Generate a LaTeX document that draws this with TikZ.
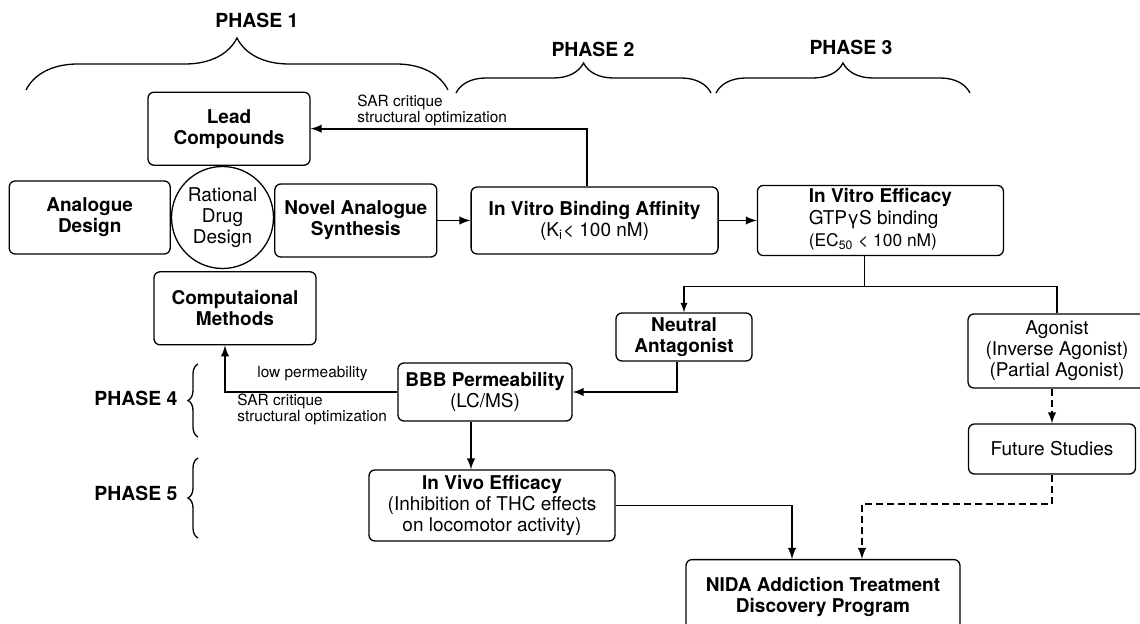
\documentclass[tikz,border=0pt]{standalone}
\usepackage{fontspec}
\setmainfont{TeX Gyre Heros}
\usepackage{tikz}
\usetikzlibrary{arrows,shapes,positioning,calc}
\usetikzlibrary{decorations.pathreplacing}

\begin{document}
\begin{tikzpicture}[x=0.5pt, y=-0.5pt, auto]
        \tikzstyle{block} = [rectangle, draw, rounded corners=3pt,
                             line width=0.65pt, align=center, inner sep=1pt,
                             font=\fontsize{9.5}{10.5}\selectfont]
        \tikzstyle{bblock} = [block, font=\fontsize{9.5}{10.5}\selectfont\bfseries]
        \tikzstyle{arrow} = [draw, -latex, line width=0.9pt]
        \tikzstyle{thinarrow} = [draw, -latex, line width=0.65pt]
        \tikzstyle{dasharrow} = [arrow, dash pattern=on 3.5pt off 2pt]
        \tikzstyle{link} = [draw, line width=0.65pt]
        \tikzstyle{phase} = [font=\fontsize{9.7}{11}\selectfont\bfseries,
                             inner sep=0pt, anchor=base]
        \tikzstyle{note} = [font=\fontsize{7.7}{8}\selectfont, align=left,
                            inner sep=0pt]
        \tikzstyle{curly} = [decorate, line width=0.65pt]
        \useasboundingbox (0,0) rectangle (1140,624);

        % phase 1: rational drug design
        \node[circle, draw, line width=0.65pt, minimum size=51pt, inner sep=0pt,
              align=center, font=\fontsize{9.5}{10.5}\selectfont]
              (rdd) at (222.5,217.5) {Rational\\Drug\\Design};
        \node[bblock, minimum width=81pt, minimum height=36.5pt,
              above=0pt of rdd, xshift=3.25pt] (lead) {Lead\\Compounds};
        \node[bblock, minimum width=80.5pt, minimum height=36.5pt,
              left=0pt of rdd] (analog) {Analogue\\Design};
        \node[bblock, minimum width=81pt, minimum height=36.5pt,
              right=0pt of rdd, yshift=-1.5pt] (novel) {Novel Analogue\\Synthesis};
        \node[bblock, minimum width=81pt, minimum height=36.5pt,
              below=1pt of rdd, xshift=6.25pt] (comp) {Computaional\\Methods};

        % phase 2 and 3
        \node[block, minimum width=123.5pt, minimum height=33.5pt,
              right=16.5pt of novel] (binding)
              {\textbf{In Vitro Binding Affinity}\\(K\textsubscript{i}< 100 nM)};
        \path[arrow] (novel.east) -- (novel.east -| binding.west);
        \node[block, minimum width=123pt, minimum height=33.5pt,
              right=19pt of binding] (efficacy)
              {\renewcommand{\arraystretch}{1.05}%
               \begin{tabular}{@{}l@{}}
               \textbf{In Vitro Efficacy}\\
               GTPγS binding\\
               {\fontsize{8.7}{10}\selectfont(EC\textsubscript{50} < 100 nM)}
               \end{tabular}};
        \path[arrow] (binding.east) -- (binding.east -| efficacy.west);
        \path[arrow] ([xshift=-3.75pt]binding.north) |- (lead.east);
        \node[note, anchor=north west] (sarA) at (357,95)
              {SAR critique\\structural optimization};

        \node[bblock, minimum width=68pt, minimum height=24pt]
              (neutral) at (684,337) {Neutral\\Antagonist};
        \node[block, minimum width=89pt, minimum height=37pt]
              (agonist) at (1057,351) {Agonist\\(Inverse Agonist)\\(Partial Agonist)};
        \path[link] ([xshift=-8pt]efficacy.south) -- ++(0,30) coordinate (split);
        \path[thinarrow] (split) -| (neutral.north);
        \path[link] (split) -| (agonist.north);
        \node[block, minimum width=83.5pt, minimum height=25pt]
              (future) at (1052,449) {Future Studies};
        \path[dasharrow] (agonist.south -| future.north) -- (future.north);

        % phase 4 and 5
        \node[block, minimum width=87pt, minimum height=29pt]
              (bbb) at (485,392) {\textbf{BBB Permeability}\\(LC/MS)};
        \path[arrow] ([xshift=-3.5pt]neutral.south) |- (bbb.east);
        \path[arrow] (bbb.west) -| ([xshift=-5pt]comp.south);
        \node[note, anchor=base west] (lowperm) at (257,378) {low permeability};
        \node[note, anchor=north west] (sarB) at (237,394)
              {SAR critique\\structural optimization};
        \node[block, minimum width=123pt, minimum height=35.5pt]
              (invivo) at (492,505.5)
              {\textbf{In Vivo Efficacy}\\(Inhibition of THC effects\\on locomotor activity)};
        \path[arrow] ([xshift=-7pt]bbb.south) -- ([xshift=-7pt]bbb.south |- invivo.north);

        % box runs off the bottom of the page
        \node[bblock, minimum width=137pt, inner ysep=9pt, anchor=north]
              (nida) at (823,559) {NIDA Addiction Treatment\\Discovery Program\\ \mbox{}};
        \path[arrow] (invivo.east) -| ([xshift=-15.5pt]nida.north);
        \path[dasharrow] (future.south) -- ++(0,29) -| ([xshift=19.5pt]nida.north);

        % phase labels and braces
        \node[phase] (p1) at (257,28) {PHASE 1};
        \node[phase] (p2) at (593,57) {PHASE 2};
        \node[phase] (p3) at (851,55) {PHASE 3};
        \node[phase] (p4) at (136,406) {PHASE 4};
        \node[phase] (p5) at (136,501) {PHASE 5};
        \draw[curly, decoration={brace, amplitude=26pt}] (26,90) -- (448,90);
        \draw[curly, decoration={brace, amplitude=15pt}] (456,93) -- (711,93);
        \draw[curly, decoration={brace, amplitude=15pt}] (716,93) -- (970,93);
        \draw[curly, decoration={brace, amplitude=5pt}] (198,437) -- (198,364);
        \draw[curly, decoration={brace, amplitude=5pt}] (198,538) -- (198,458);
\end{tikzpicture}
\end{document}
